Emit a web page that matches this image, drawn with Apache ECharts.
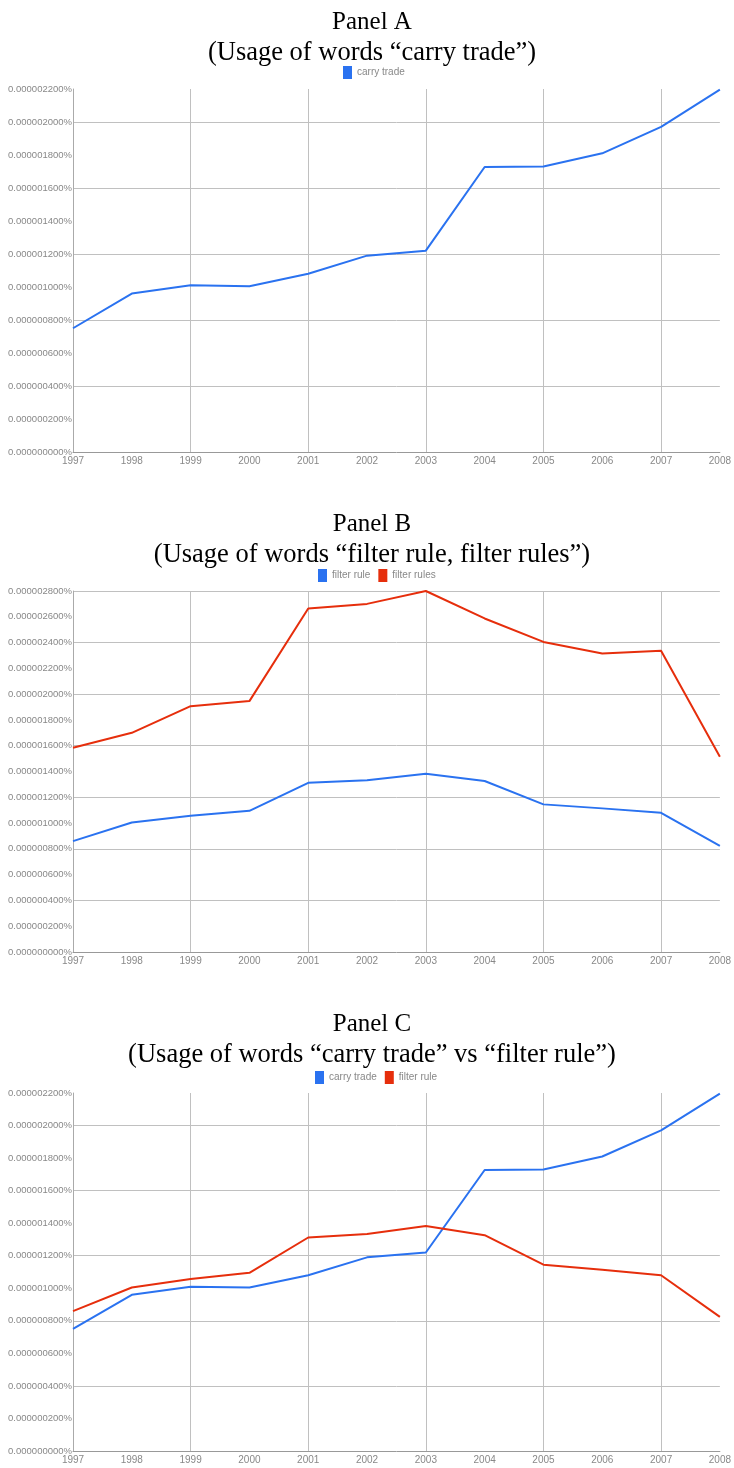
<!DOCTYPE html>
<html>
<head>
<meta charset="utf-8">
<title>Usage of words</title>
<script src="https://cdn.jsdelivr.net/npm/echarts/dist/echarts.min.js"></script>
<style>
  html, body { margin: 0; padding: 0; background: #fff; }
  #chart { width: 734px; height: 1468px; }
</style>
</head>
<body>
<div id="chart"></div>
<script>
// values are in units of 0.000001 %
const years = ["1997", "1998", "1999", "2000", "2001", "2002", "2003", "2004", "2005", "2006", "2007", "2008"];
const carryTrade = [0.75, 0.96, 1.01, 1.005, 1.08, 1.19, 1.22, 1.727, 1.73, 1.81, 1.97, 2.196];
const filterRule = [0.86, 1.005, 1.057, 1.095, 1.312, 1.333, 1.382, 1.326, 1.145, 1.114, 1.08, 0.824];
const filterRules = [1.584, 1.70, 1.907, 1.946, 2.664, 2.70, 2.80, 2.587, 2.405, 2.315, 2.336, 1.514];
const panelTitles = ["Panel A", "Panel B", "Panel C"];
const panelSubtitles = [
  "(Usage of words \u201ccarry trade\u201d)",
  "(Usage of words \u201cfilter rule, filter rules\u201d)",
  "(Usage of words \u201ccarry trade\u201d vs \u201cfilter rule\u201d)"
];
const yMax = [2.2, 2.8, 2.2];

const BLUE = "#2a72f0";
const RED = "#e62e0c";
const narrow = "'Liberation Sans Narrow', 'Arial Narrow', Arial, sans-serif";
const serif = "'Liberation Serif', 'Times New Roman', serif";

const chart = echarts.init(document.getElementById("chart"));

// layout of the three panels (px)
const grids = [
  { left: 73, right: 12, top: 89, height: 363 },
  { left: 73, right: 12, top: 591, height: 361 },
  { left: 73, right: 12, top: 1093, height: 358 }
];
const titleTops = [2, 504, 1004];
const legendPos = [
  { left: 343, top: 66 },
  { left: 318, top: 569 },
  { left: 315, top: 1071 }
];

const fmtPct = (v) => (v / 1e6).toFixed(9) + "%";

const xAxes = [], yAxes = [], titles = [], legends = [];
grids.forEach((g, i) => {
  titles.push({
    text: "{a|" + panelTitles[i] + "}\n{b|" + panelSubtitles[i] + "}",
    left: 367,
    top: titleTops[i],
    textAlign: "center",
    textStyle: {
      fontFamily: serif,
      fontWeight: "normal",
      color: "#000",
      rich: {
        a: { fontFamily: serif, fontSize: 25, lineHeight: 30, color: "#000" },
        b: { fontFamily: serif, fontSize: 26.5, lineHeight: 32, color: "#000" }
      }
    }
  });
  xAxes.push({
    type: "category",
    gridIndex: i,
    data: years,
    boundaryGap: false,
    axisLine: { lineStyle: { color: "#999", width: 1 } },
    axisTick: { show: false },
    axisLabel: { color: "#888", fontFamily: narrow, fontSize: 10, margin: 4, interval: 0 },
    splitLine: {
      show: true,
      interval: (idx) => idx > 0 && idx < years.length - 1 && idx % 2 === 0,
      lineStyle: { color: "#c0c0c0", width: 1 }
    }
  });
  // labelled axis, a label every 0.2
  yAxes.push({
    type: "value",
    gridIndex: i,
    min: 0,
    max: yMax[i],
    interval: 0.2,
    axisLine: { show: true, lineStyle: { color: "#aaa" } },
    axisTick: { show: false },
    axisLabel: { color: "#888", fontFamily: narrow, fontSize: 9.5, margin: 1, formatter: fmtPct },
    splitLine: { show: false }
  });
  // grid lines only every 0.4
  yAxes.push({
    type: "value",
    gridIndex: i,
    min: 0,
    max: yMax[i],
    interval: 0.4,
    position: "left",
    axisLine: { show: false },
    axisTick: { show: false },
    axisLabel: { show: false },
    splitLine: { show: true, showMinLine: false, showMaxLine: yMax[i] === 2.8, lineStyle: { color: "#c0c0c0", width: 1 } }
  });
});

const legendText = { color: "#888", fontFamily: narrow, fontSize: 10 };
const legendBase = { icon: "rect", itemWidth: 9, itemHeight: 13, itemGap: 8, padding: 0, textStyle: legendText, selectedMode: false };
legends.push(Object.assign({}, legendBase, legendPos[0], {
  data: [{ name: "carry trade", itemStyle: { color: BLUE } }]
}));
legends.push(Object.assign({}, legendBase, legendPos[1], {
  data: [{ name: "filter rule", itemStyle: { color: BLUE } }, { name: "filter rules", itemStyle: { color: RED } }]
}));
legends.push(Object.assign({}, legendBase, legendPos[2], {
  data: [{ name: "carry trade", itemStyle: { color: BLUE } }, { name: "filter rule", itemStyle: { color: RED } }]
}));

const line = (name, data, color, idx) => ({
  name: name,
  type: "line",
  xAxisIndex: idx,
  yAxisIndex: idx * 2,
  data: data,
  symbol: "none",
  smooth: false,
  lineStyle: { color: color, width: 2 },
  itemStyle: { color: color },
  emphasis: { disabled: true }
});

const option = {
  animation: false,
  backgroundColor: "#fff",
  title: titles,
  legend: legends,
  grid: grids,
  xAxis: xAxes,
  yAxis: yAxes,
  series: [
    line("carry trade", carryTrade, BLUE, 0),
    line("filter rule", filterRule, BLUE, 1),
    line("filter rules", filterRules, RED, 1),
    line("carry trade", carryTrade, BLUE, 2),
    line("filter rule", filterRule, RED, 2)
  ]
};

chart.setOption(option);
window.addEventListener("resize", () => chart.resize());
</script>
</body>
</html>
